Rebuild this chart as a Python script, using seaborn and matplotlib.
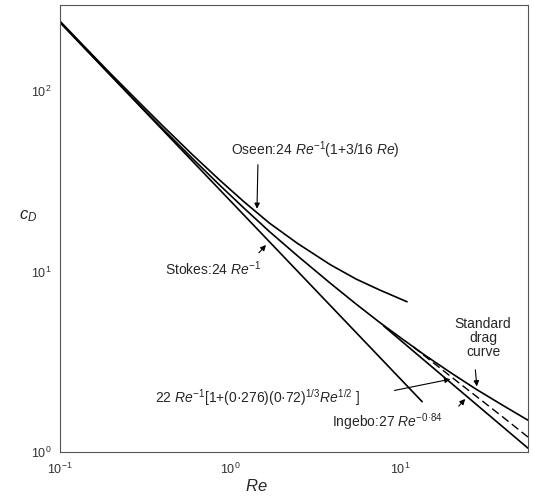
import matplotlib
matplotlib.use("Agg")
import matplotlib.pyplot as plt
import seaborn as sns

# Data
re_stokes = [0.1, 13.5]
cd_stokes = [240, 1.9]

re_oseen = [0.1, 0.15, 0.2, 0.3, 0.4, 0.6, 0.87, 1.2, 1.7, 2.5, 3.9, 5.5, 7.6, 11.0]
cd_oseen = [244, 164, 124, 84.5, 64.5, 44.5, 32.1, 24.5, 18.6, 14.3, 10.9, 9.1, 7.9, 6.8]

re_std = [0.1, 0.15, 0.2, 0.3, 0.4, 0.6, 0.87, 1.2, 1.7, 2.5, 3.9, 5.5, 7.6, 10, 14, 20, 28, 40, 56.6]
cd_std = [241, 161.5, 121.6, 81.8, 62.1, 42.4, 30.1, 22.6, 16.7, 12.2, 8.6, 6.62, 5.22,
          4.32, 3.44, 2.74, 2.23, 1.82, 1.50]

re_corr = [12, 14, 20, 28, 40, 56.6]
cd_corr = [3.82, 3.40, 2.61, 2.04, 1.57, 1.21]

re_ingebo = [8, 56.6]
cd_ingebo = [5.0, 1.05]

sns.set_style("white")
plt.rcParams['font.family'] = ['Liberation Sans', 'DejaVu Sans']
plt.rcParams['mathtext.fontset'] = 'custom'
plt.rcParams['mathtext.rm'] = 'Liberation Sans'
plt.rcParams['mathtext.it'] = 'Liberation Sans:italic'

fig = plt.figure(figsize=(5.33, 4.96), dpi=100)
ax = fig.add_axes([60 / 533, 1 - 452 / 496, 468 / 533, 447 / 496])

lw = 1.2
sns.lineplot(x=re_std, y=cd_std, ax=ax, color='black', lw=lw)
sns.lineplot(x=re_oseen, y=cd_oseen, ax=ax, color='black', lw=lw)
sns.lineplot(x=re_stokes, y=cd_stokes, ax=ax, color='black', lw=lw)
sns.lineplot(x=re_ingebo, y=cd_ingebo, ax=ax, color='black', lw=lw)
sns.lineplot(x=re_corr, y=cd_corr, ax=ax, color='black', lw=1.0, linestyle=(0, (6, 3)))

ax.set_xscale('log')
ax.set_yscale('log')
ax.set_xlim(0.1, 56.6)
ax.set_ylim(1, 300)
ax.minorticks_off()
ax.set_xticks([0.1, 1, 10])
ax.set_yticks([1, 10, 100])
ax.tick_params(direction='in', length=4, width=0.8, labelsize=9, colors='#333333')
ax.tick_params(axis='x', pad=7)
ax.tick_params(axis='y', pad=6)

for s in ax.spines.values():
    s.set_color('#555555')
    s.set_linewidth(0.8)

ax.set_xlabel(r"$Re$", fontsize=12)
ax.xaxis.set_label_coords(0.42, -0.058)
ax.set_ylabel(r"$c_D$", fontsize=12, rotation=0)
ax.yaxis.set_label_coords(-0.068, 0.51)

arrow = dict(arrowstyle='-|>', color='black', lw=0.8, mutation_scale=8)
fs = 10

# Oseen
ax.text(0.365, 0.676, r"Oseen:24 $Re^{-1}$(1+3/16 $Re$)", transform=ax.transAxes,
        fontsize=fs, ha='left', va='center')
ax.annotate("", xy=(1.44, 21.5), xycoords='data', xytext=(0.423, 0.649),
            textcoords='axes fraction', arrowprops=arrow)

# Stokes
ax.text(0.224, 0.409, r"Stokes:24 $Re^{-1}$", transform=ax.transAxes,
        fontsize=fs, ha='left', va='center')
ax.annotate("", xy=(1.67, 14.4), xycoords='data', xytext=(0.421, 0.441),
            textcoords='axes fraction', arrowprops=arrow)

# 22 Re^-1 correlation
ax.text(0.203, 0.121,
        r"22 $Re^{-1}$[1+(0·276)(0·72)$^{1/3}$$Re^{1/2}$ ]",
        transform=ax.transAxes, fontsize=fs, ha='left', va='center')
ax.annotate("", xy=(20.5, 2.55), xycoords='data', xytext=(0.709, 0.1365),
            textcoords='axes fraction', arrowprops=arrow)

# Ingebo
ax.text(0.581, 0.067, r"Ingebo:27 $Re^{-0·84}$", transform=ax.transAxes,
        fontsize=fs, ha='left', va='center')
ax.annotate("", xy=(24.8, 2.02), xycoords='data', xytext=(0.848, 0.098),
            textcoords='axes fraction', arrowprops=arrow)

# Standard drag curve
ax.text(0.904, 0.255, "Standard\ndrag\ncurve", transform=ax.transAxes,
        fontsize=fs, ha='center', va='center', linespacing=1.0)
ax.annotate("", xy=(28.4, 2.23), xycoords='data', xytext=(0.887, 0.190),
            textcoords='axes fraction', arrowprops=arrow)

fig.savefig("out.png", dpi=100)
